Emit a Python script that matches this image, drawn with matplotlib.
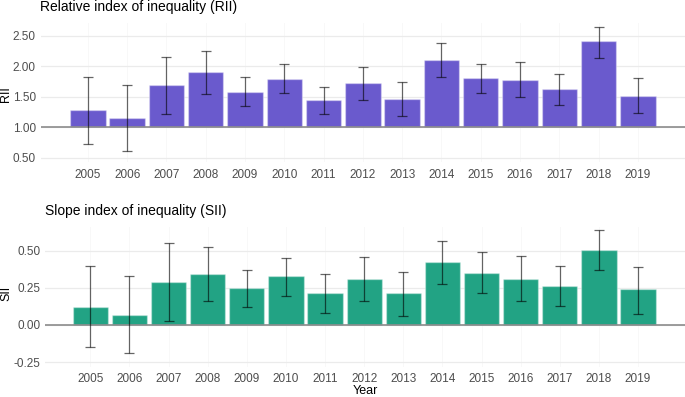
import numpy as np
import matplotlib
import matplotlib.pyplot as plt

matplotlib.use('Agg')
plt.rcParams['font.family'] = ['Liberation Sans', 'DejaVu Sans']

years = [2005, 2006, 2007, 2008, 2009, 2010, 2011, 2012,
         2013, 2014, 2015, 2016, 2017, 2018, 2019]

# Relative index of inequality
rii = [1.28, 1.15, 1.70, 1.90, 1.58, 1.80, 1.45, 1.73,
       1.47, 2.10, 1.81, 1.78, 1.62, 2.41, 1.52]
rii_lo = [0.72, 0.60, 1.22, 1.54, 1.34, 1.56, 1.22, 1.44,
          1.18, 1.83, 1.56, 1.49, 1.37, 2.14, 1.23]
rii_hi = [1.83, 1.69, 2.16, 2.25, 1.82, 2.04, 1.66, 1.99,
          1.75, 2.39, 2.04, 2.08, 1.88, 2.65, 1.81]

# Slope index of inequality
sii = [0.119, 0.068, 0.290, 0.342, 0.250, 0.331, 0.212, 0.311,
       0.212, 0.423, 0.351, 0.311, 0.261, 0.502, 0.239]
sii_lo = [-0.151, -0.187, 0.029, 0.158, 0.124, 0.198, 0.083, 0.158,
          0.059, 0.273, 0.212, 0.158, 0.126, 0.367, 0.077]
sii_hi = [0.394, 0.329, 0.550, 0.523, 0.372, 0.453, 0.345, 0.455,
          0.354, 0.568, 0.489, 0.464, 0.399, 0.637, 0.392]

rii_ticks = [0.5, 1.0, 1.5, 2.0, 2.5]
sii_ticks = [-0.25, 0.0, 0.25, 0.5]

purple = '#6a5acd'
green = '#22a384'
grid_col = '#ebebeb'
text_col = '#4d4d4d'

W, H = 685, 397
fig = plt.figure(figsize=(W / 100, H / 100), dpi=100)


def panel(rect, vals, lo, hi, base, ticks, ylim, xlim, colour, fmt):
    ax = fig.add_axes(rect)
    x = np.array(years)
    v = np.array(vals)
    ax.bar(x, v - base, bottom=base, width=0.9, color=colour,
           edgecolor=(1, 1, 1, 0.35), linewidth=1, zorder=2)
    ax.errorbar(x, v, yerr=[v - np.array(lo), np.array(hi) - v], fmt='none',
                ecolor=(0, 0, 0, 0.6), elinewidth=0.9, capsize=3.5, capthick=0.9, zorder=4)
    ax.axhline(base, color='#8c8c8c', linewidth=1.2, zorder=3)
    ax.set_xlim(*xlim)
    ax.set_ylim(*ylim)
    ax.set_xticks(years)
    ax.set_xticklabels([str(y) for y in years])
    ax.set_yticks(ticks)
    ax.set_yticklabels([fmt % t for t in ticks])
    ax.grid(axis='y', color=grid_col, linewidth=0.9, zorder=0)
    ax.grid(axis='x', color='#f7f7f7', linewidth=0.6, zorder=0)
    ax.set_axisbelow(True)
    for s in ax.spines.values():
        s.set_visible(False)
    ax.tick_params(length=0, labelsize=8.5, labelcolor=text_col)
    ax.tick_params(axis='x', pad=5.0)
    ax.tick_params(axis='y', pad=3.5)
    return ax


# top: RII
ax1 = panel([40.7 / W, 1 - 162.4 / H, 644.3 / W, 139.8 / H],
            rii, rii_lo, rii_hi, 1.0, rii_ticks, (0.42, 2.72), (2003.8, 2020.2),
            purple, '%.2f')
fig.text(40.5 / W, 1 - 7 / H, 'Relative index of inequality (RII)',
         fontsize=10, va='center', ha='left')
fig.text(6.5 / W, 1 - 94 / H, 'RII', fontsize=9, rotation=90,
         va='center', ha='center')

# bottom: SII
ax2 = panel([45 / W, 1 - 366.5 / H, 640 / W, 139.5 / H],
            sii, sii_lo, sii_hi, 0.0, sii_ticks, (-0.28, 0.66), (2003.84, 2020.2),
            green, '%.2f')
fig.text(365 / W, 1 - 390.5 / H, 'Year', fontsize=9, va='center', ha='center')
fig.text(45 / W, 1 - 211 / H, 'Slope index of inequality (SII)',
         fontsize=10, va='center', ha='left')
fig.text(6.5 / W, 1 - 293 / H, 'SII', fontsize=9, rotation=90,
         va='center', ha='center')

fig.savefig('out.png', dpi=100)
